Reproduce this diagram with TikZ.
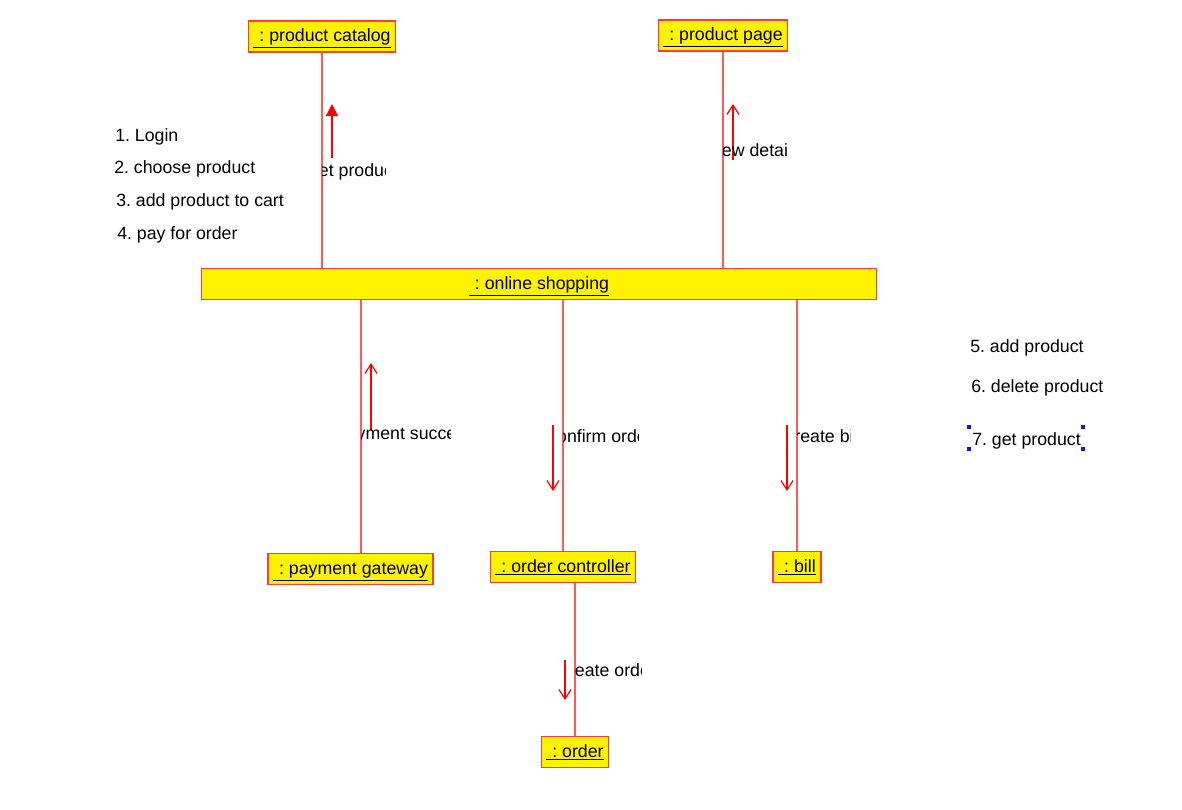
\documentclass[tikz,border=0pt]{standalone}
\usepackage{fontspec}
\setmainfont{Liberation Sans}
\frenchspacing
\usetikzlibrary{arrows.meta}
\definecolor{boxred}{RGB}{255,60,60}
\definecolor{linered}{RGB}{255,90,90}
\definecolor{handle}{RGB}{20,20,230}
\newcommand{\objname}[1]{\underline{\hspace{4.5pt}#1}}
\newcommand{\msglabel}[5]{%
  \begin{scope}
    \clip (#2,#4-11) rectangle (#3,#4+11);
    \node[msgtext] (#1) at ({(#2+#3)/2},#4) {#5};
  \end{scope}}
\begin{document}
\begin{tikzpicture}[x=0.75pt, y=-0.75pt, font=\fontsize{13.3}{16}\selectfont,
  object/.style={rectangle, draw=boxred, fill=yellow, line width=1.1pt, minimum height=23.5pt, inner xsep=3.8pt, inner ysep=0pt, text height=9.5pt, text depth=1.3pt},
  lifeline/.style={draw=linered, line width=1.2pt},
  msg/.style={red, line width=0.9pt, -{Straight Barb[length=7pt, width=9pt]}},
  msgfill/.style={red, line width=0.9pt, -{Triangle[length=9pt, width=9pt]}},
  msgtext/.style={inner sep=0pt},
  note/.style={anchor=west, inner sep=0pt}]
  \useasboundingbox (0,0) rectangle (1182,810);

  \node[object] (catalog) at (322,36.5) {\objname{: product catalog}};
  \node[object] (page) at (723,35.5) {\objname{: product page}};
  \node[object, minimum width=506pt] (shop) at (539,284) {\objname{: online shopping}};
  \node[object] (pay) at (350.5,569) {\objname{: payment gateway}};
  \node[object] (ctrl) at (563,567) {\objname{: order controller}};
  \node[object] (bill) at (797,567) {\objname{: bill}};
  \node[object] (order) at (575,752) {\objname{: order}};

  \draw[lifeline] (catalog.south) -- (catalog.south |- shop.north);
  \draw[lifeline] (page.south) -- (page.south |- shop.north);
  \draw[lifeline] ([xshift=7.9pt]pay.north) -- ([xshift=7.9pt]pay.north |- shop.south);
  \draw[lifeline] (ctrl.north) -- (ctrl.north |- shop.south);
  \draw[lifeline] (bill.north) -- (bill.north |- shop.south);
  \draw[lifeline] (order.north) -- (order.north |- ctrl.south);

  \draw[msgfill] (332,158) -- (332,104);
  \msglabel{getprod}{322}{385}{172}{get product}
  \draw[msg] (733,160) -- (733,104);
  \msglabel{viewdet}{723}{787}{150}{view details}
  \draw[msg] (371,430) -- (371,363);
  \msglabel{paysucc}{361}{450}{436}{payment success}
  \draw[msg] (553,425) -- (553,491);
  \msglabel{confirm}{563}{638}{436}{confirm order}
  \draw[msg] (787,425) -- (787,491);
  \msglabel{mkbill}{797}{850}{436}{create bill}
  \draw[msg] (565,660) -- (565,700);
  \msglabel{mkorder}{575}{641}{670}{create order}

  \node[note] (n1) at (115,137) {1. Login};
  \node[note] (n2) at (114,169) {2. choose product};
  \node[note] (n3) at (116,202) {3. add product to cart};
  \node[note] (n4) at (117,235) {4. pay for order};
  \node[note] (n5) at (970,348) {5. add product};
  \node[note] (n6) at (971,388) {6. delete product};
  \node[note] (n7) at (972,441) {7. get product};

  \foreach \hx/\hy in {969/427, 1083/427, 969/449, 1083/449}
    \fill[handle] (\hx-2,\hy-2) rectangle (\hx+2,\hy+2);
\end{tikzpicture}
\end{document}
